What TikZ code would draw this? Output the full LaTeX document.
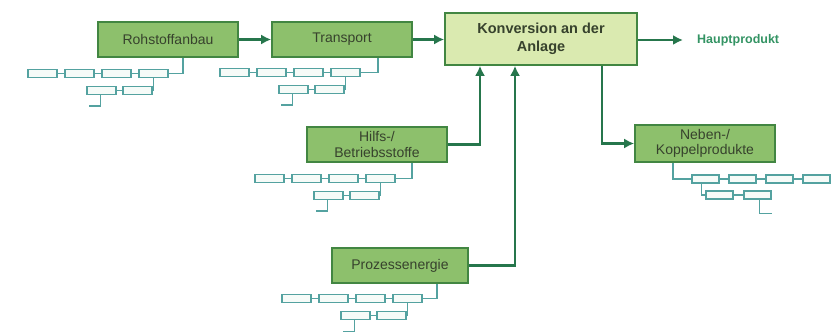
\documentclass[tikz,border=0pt]{standalone}
\usepackage{fontspec}
\setmainfont{Liberation Sans}
\usetikzlibrary{arrows.meta,calc}
\definecolor{mainfill}{RGB}{141,192,108}
\definecolor{mainborder}{RGB}{66,134,66}
\definecolor{konvfill}{RGB}{218,234,176}
\definecolor{arrowgreen}{RGB}{38,118,76}
\definecolor{smallline}{RGB}{84,162,160}
\definecolor{smallfill}{RGB}{246,251,248}
\definecolor{boxtext}{RGB}{55,66,45}
\definecolor{hauptcol}{RGB}{52,148,100}
\tikzset{
  mainbox/.style={draw=mainborder, line width=1.6pt, fill=mainfill, minimum width=140pt, minimum height=35pt, inner sep=2pt, align=center, text=boxtext, font=\fontsize{14}{15.5}\selectfont},
  konvbox/.style={mainbox, fill=konvfill, minimum width=192pt, minimum height=52pt, font=\fontsize{14.5}{18}\selectfont\bfseries},
  flow/.style={draw=arrowgreen, line width=2.6pt, -{Latex[length=10pt,width=10pt]}},
  sbox/.style={draw=smallline, line width=1.4pt, fill=smallfill, minimum width=29pt, minimum height=8pt, inner sep=0pt},
  sboxn/.style={sbox, minimum width=27pt},
  sline/.style={draw=smallline, line width=1.4pt},
}
% left-type chain: #1 prefix, #2 x0, #3 y0, #4 parent node, #5 x offset of connector from parent south
\newcommand\mychainL[5]{%
  \foreach \i in {0,...,3} {\node[sbox] (#1\i) at ({#2+14.5+37*\i},#3) {};}
  \node[sbox] (#14) at ({#2+73.5},{#3+17}) {};
  \node[sbox] (#15) at ({#2+109.5},{#3+17}) {};
  \draw[sline] (#10.east) -- (#11.west) (#11.east) -- (#12.west) (#12.east) -- (#13.west) (#14.east) -- (#15.west);
  \coordinate (#1c) at ($(#4.south)+(#5,0)$);
  \draw[sline] (#13.east) -| (#1c);
  \draw[sline] (#15.east) -| (#13.south);
  \draw[sline] ($(#14.south)+(-1,0)$) -- ++(0,11) -- ++(-12,0);
}
% right-type chain (mirrored)
\newcommand\mychainR[5]{%
  \foreach \i in {0,...,3} {\node[sboxn] (#1\i) at ({#2+13.5+37*\i},#3) {};}
  \node[sboxn] (#14) at ({#2+27.5},{#3+16}) {};
  \node[sboxn] (#15) at ({#2+65.5},{#3+16}) {};
  \draw[sline] (#10.east) -- (#11.west) (#11.east) -- (#12.west) (#12.east) -- (#13.west) (#14.east) -- (#15.west);
  \coordinate (#1c) at ($(#4.south)+(#5,0)$);
  \draw[sline] (#1c) |- (#10.west);
  \draw[sline] ($(#10.south)+(-4,0)$) |- (#14.west);
  \draw[sline] ($(#15.south)+(2,0)$) -- ++(0,14) -- ++(12,0);
}
\begin{document}
\begin{tikzpicture}[x=1pt,y=-1pt]
\useasboundingbox (0,0) rectangle (836,334);
\fill[white] (0,0) rectangle (836,334);

% main boxes
\node[mainbox] (roh) at (168,39.5) {Rohstoffanbau};
\node[mainbox] (trans) at (342,39.5) {Transport};
\node[konvbox] (konv) at (541,39) {Konversion an der\\Anlage};
\node[mainbox] (hilfs) at (377,144.5) {Hilfs-/\\Betriebsstoffe};
\node[mainbox, minimum width=136pt] (proz) at (400,265.5) {Prozessenergie};
\node[mainbox, minimum height=37pt] (neben) at (705,143.5) {Neben-/\\Koppelprodukte};
\node[anchor=west, text=hauptcol, font=\fontsize{12.5}{14}\selectfont\bfseries, inner sep=0pt] (haupt) at (697,40) {Hauptprodukt};

% connector points on Konversion bottom
\coordinate (k1) at ($(konv.south)+(-61,0)$);
\coordinate (k2) at ($(konv.south)+(-26,0)$);
\coordinate (k3) at ($(konv.south)+(61,0)$);

% flows
\draw[flow] (roh.east) -- (trans.west);
\draw[flow] (trans.east) -- (trans.east -| konv.west);
\draw[flow, shorten >=14pt] (konv.east |- haupt.west) -- (haupt.west);
\draw[flow] (hilfs.east) -| (k1);
\draw[flow] (proz.east) -| (k2);
\draw[flow] (k3) |- (neben.west);

% small chains
\mychainL{ra}{28}{73.5}{roh}{15}
\mychainL{tr}{220}{72.5}{trans}{36}
\mychainL{hi}{255}{178.5}{hilfs}{35}
\mychainL{pr}{282}{298.5}{proz}{37}
\mychainR{ne}{692}{179}{neben}{-32}
\end{tikzpicture}
\end{document}
